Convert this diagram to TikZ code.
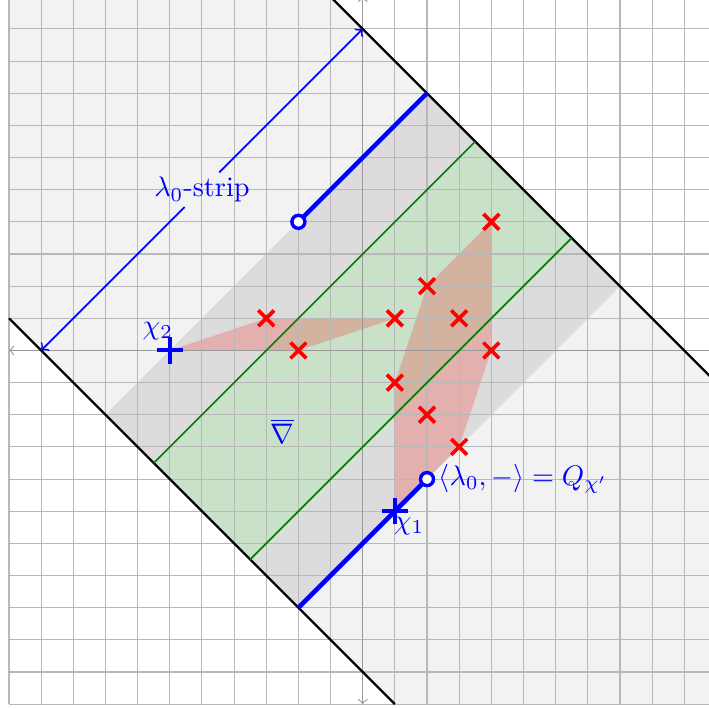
\documentclass[tikz,border=0pt]{standalone}
\usetikzlibrary{positioning,shapes.misc}
\definecolor{stripgray}{RGB}{242,242,242}
\definecolor{bandgray}{RGB}{220,220,220}
\definecolor{bandgreen}{RGB}{201,224,201}
\tikzset{
  xmark/.style={cross out, draw=red, line width=1.3pt, inner sep=0pt, minimum size=4.3pt},
  pmark/.style={cross out, draw=blue, line width=1.4pt, inner sep=0pt, minimum size=5.2pt, rotate=45},
  omark/.style={circle, draw=blue, line width=1.2pt, fill=white, inner sep=0pt, minimum size=4.6pt},
  poly/.style={fill=red, fill opacity=0.2},
  wall/.style={draw=black, thick},
}
\begin{document}
\begin{tikzpicture}[x=0.4cm, y=0.4cm]
  \useasboundingbox (-11.28,-11.13) rectangle (10.77,10.90);
  \clip (-11.28,-11.13) rectangle (10.77,10.90);
  % points
  \foreach \n/\x/\y in {a/-3/1, b/-2/0, c/1/1, d/2/2, e/3/1, f/4/4, g/4/0, h/1/-1, i/2/-2, j/3/-3}
    \coordinate (\n) at (\x,\y);
  \coordinate (sa) at (-10,0);
  \coordinate (sb) at (0,10);
  \coordinate (top) at (2,8);
  \coordinate (bot) at (-2,-8);
  % strips
  \begin{scope}
    \clip (-11,-11) rectangle (11,11);
    \fill[stripgray] (-21,11) -- (-1,11) -- (21,-11) -- (1,-11) -- cycle;
  \end{scope}
  \fill[bandgray] (-8,-2) -- (2,8) -- (8,2) -- (-2,-8) -- cycle;
  \fill[bandgreen] (-6.5,-3.5) -- (3.5,6.5) -- (6.5,3.5) -- (-3.5,-6.5) -- cycle;
  % polygons
  \fill[poly] (-6,0) -- (a) -- (c) -- (b) -- cycle;
  \fill[poly] (f) -- (d) -- (h) -- (1,-5) -- (j) -- (g) -- cycle;
  \draw[black!28, thin, step={(1,1)}] (-11,-11) grid (11,11);
  \draw[black!40, <->] (-11,0) -- (11,0);
  \draw[black!40, <->] (0,-11) -- (0,11);
  \draw[wall] (-11,1) -- (1,-11);
  \draw[wall] (-1,11) -- (11,-1);
  \draw[green!50!black, semithick] (-6.5,-3.5) -- (3.5,6.5);
  \draw[green!50!black, semithick] (-3.5,-6.5) -- (6.5,3.5);
  % marks
  \foreach \n in {a,b,c,d,e,f,g,h,i,j}
    \node[xmark] (x\n) at (\n) {};
  \draw[blue, line width=1.6pt] (-2,4) -- (top);
  \draw[blue, line width=1.6pt] (2,-4) -- (bot);
  \node[omark] (p) at (-2,4) {};
  \node[omark] (q) at (2,-4) {};
  \node[pmark] (c2) at (-6,0) {};
  \node[pmark] (c1) at (1,-5) {};
  % labels
  \node[blue, inner sep=1.5pt] (strip) at (-5,5) {$\lambda_0$-strip};
  \draw[blue, semithick, ->] (strip) -- (sb);
  \draw[blue, semithick, ->] (strip) -- (sa);
  \node[blue] (c2l) at (-6.37,0.6) {$\chi_2$};
  \node[blue] (c1l) at (1.44,-5.46) {$\chi_1$};
  \node[blue, right=0.5pt of q, inner sep=0.5pt] (ql) {$\langle\lambda_0,-\rangle=Q_{\chi'}$};
  \node[blue] (nab) at (-2.5,-2.5) {$\overline{\nabla}$};
\end{tikzpicture}
\end{document}
